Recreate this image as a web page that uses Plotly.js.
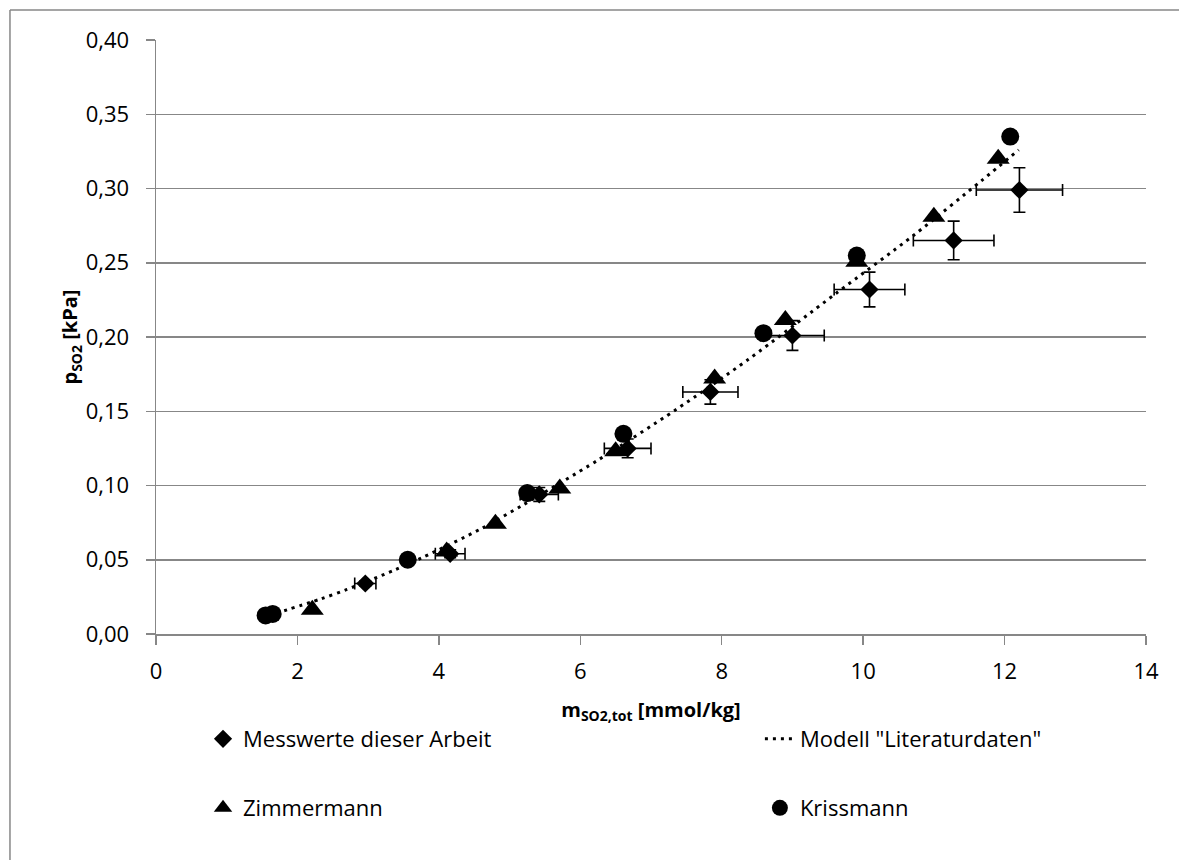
<!DOCTYPE html>
<html>
<head>
<meta charset="utf-8">
<script src="https://cdn.plot.ly/plotly-3.0.1.min.js"></script>
<style>html,body{margin:0;padding:0;background:#fff;}#chart{width:1179px;height:860px;}</style>
</head>
<body>
<div id="chart"></div>
<script>
// Messwerte dieser Arbeit
var messX = [2.96, 4.16, 5.42, 6.67, 7.84, 9.0, 10.09, 11.28, 12.21];
var messY = [0.034, 0.054, 0.094, 0.125, 0.163, 0.201, 0.232, 0.265, 0.299];
var messErrX = [0.15, 0.21, 0.27, 0.33, 0.39, 0.45, 0.50, 0.57, 0.61];
var messErrY = [0.0017, 0.0027, 0.0047, 0.0063, 0.0082, 0.010, 0.0117, 0.013, 0.015];
// Zimmermann
var zimmX = [2.21, 4.11, 4.8, 5.71, 6.5, 7.9, 8.9, 9.91, 11.0, 11.91];
var zimmY = [0.0164, 0.0556, 0.0742, 0.098, 0.123, 0.172, 0.2115, 0.2507, 0.281, 0.320];
// Krissmann
var krissX = [1.55, 1.65, 3.56, 5.25, 6.61, 8.59, 9.91, 12.08];
var krissY = [0.0125, 0.0135, 0.050, 0.0949, 0.1348, 0.2026, 0.2548, 0.335];
// Modell "Literaturdaten"
var modelX = [1.7, 2.33, 2.70, 3.36, 3.78, 4.59, 5.18, 6.24, 7.35, 8.38, 9.62, 10.72, 11.68, 12.2];
var modelY = [0.014, 0.0236, 0.030, 0.0428, 0.0518, 0.0707, 0.0866, 0.1168, 0.151, 0.185, 0.2295, 0.2687, 0.3055, 0.326];

var names = ['Messwerte dieser Arbeit', 'Zimmermann', 'Krissmann', 'Modell "Literaturdaten"'];

var FONT = 'Open Sans, Noto Sans, sans-serif';
var grid = '#878787';

var traces = [
  {
    x: messX, y: messY, name: names[0], type: 'scatter', mode: 'markers', legend: 'legend',
    marker: {symbol: 'diamond', size: 14, color: '#000'},
    error_x: {type: 'data', array: messErrX, visible: true, color: '#000', thickness: 1.6, width: 6},
    error_y: {type: 'data', array: messErrY, visible: true, color: '#000', thickness: 1.6, width: 6}
  },
  {
    x: zimmX, y: zimmY, name: names[1], type: 'scatter', mode: 'markers', legend: 'legend3',
    marker: {symbol: 'triangle-up', size: 20, color: '#000'}
  },
  {
    x: krissX, y: krissY, name: names[2], type: 'scatter', mode: 'markers', legend: 'legend4',
    marker: {symbol: 'circle', size: 18, color: '#000'}
  },
  {
    x: modelX, y: modelY, name: names[3], type: 'scatter', mode: 'lines', legend: 'legend2',
    line: {color: '#000', width: 3, dash: '3px,5px', shape: 'spline', smoothing: 0.8}
  }
];

function leg(x, y) {
  return {
    orientation: 'h', x: x, xanchor: 'left', y: y, yanchor: 'middle',
    font: {family: FONT, size: 22}, bgcolor: 'rgba(0,0,0,0)', borderwidth: 0
  };
}

var layout = {
  width: 1179, height: 860,
  paper_bgcolor: '#fff', plot_bgcolor: '#fff',
  separators: ', ',
  margin: {l: 156, r: 33, t: 40, b: 226},
  font: {family: FONT, size: 22, color: '#000'},
  showlegend: true,
  xaxis: {
    range: [0, 14], dtick: 2, tick0: 0,
    showgrid: false, zeroline: false,
    showline: true, linecolor: grid, linewidth: 1.5,
    ticks: 'outside', ticklen: 9, tickcolor: grid, tickwidth: 1.5,
    ticklabelstandoff: 8,
    tickfont: {family: FONT, size: 22},
    title: {text: '<b>m<sub>SO2,tot</sub> [mmol/kg]</b>', font: {family: FONT, size: 20}, standoff: 19}
  },
  yaxis: {
    range: [0, 0.40], dtick: 0.05, tick0: 0, tickformat: '.2f',
    showgrid: true, gridcolor: grid, gridwidth: 1.5,
    zeroline: false,
    showline: true, linecolor: grid, linewidth: 1.5,
    ticks: 'outside', ticklen: 9, tickcolor: grid, tickwidth: 1.5,
    ticklabelstandoff: 12,
    tickfont: {family: FONT, size: 22},
    title: {text: '<b>p<sub>SO2</sub> [kPa]</b>', font: {family: FONT, size: 20}, standoff: 1}
  },
  legend: leg(0.0475, -0.1768),
  legend2: leg(0.610, -0.1768),
  legend3: leg(0.0475, -0.2929),
  legend4: leg(0.610, -0.2929),
  shapes: [
    {type: 'line', xref: 'paper', yref: 'paper', x0: -0.1475, x1: -0.1475, y0: 1.0505, y1: -0.40, line: {color: grid, width: 1.5}},
    {type: 'line', xref: 'paper', yref: 'paper', x0: -0.1475, x1: 1.05, y0: 1.0505, y1: 1.0505, line: {color: grid, width: 1.5}}
  ]
};

Plotly.newPlot('chart', traces, layout, {displayModeBar: false, staticPlot: true});
</script>
</body>
</html>
